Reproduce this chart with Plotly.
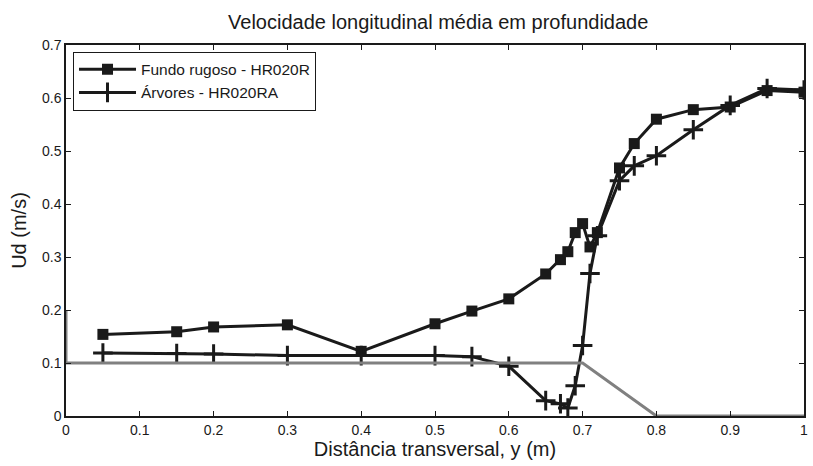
import plotly.graph_objects as go

# Fundo rugoso - HR020R (squares)
x_fundo = [0.05, 0.15, 0.20, 0.30, 0.40, 0.50, 0.55, 0.60, 0.65, 0.67, 0.68, 0.69, 0.70, 0.71, 0.72, 0.75, 0.77, 0.80, 0.85, 0.90, 0.95, 1.00]
u_fundo = [0.154, 0.159, 0.168, 0.172, 0.122, 0.174, 0.198, 0.221, 0.268, 0.295, 0.310, 0.346, 0.363, 0.319, 0.346, 0.468, 0.514, 0.560, 0.578, 0.583, 0.614, 0.611]

# Árvores - HR020RA (crosses)
x_arv = [0.05, 0.15, 0.20, 0.30, 0.40, 0.50, 0.55, 0.60, 0.65, 0.67, 0.68, 0.69, 0.70, 0.71, 0.72, 0.75, 0.77, 0.80, 0.85, 0.90, 0.95, 1.00]
u_arv = [0.119, 0.118, 0.117, 0.114, 0.114, 0.114, 0.112, 0.094, 0.029, 0.023, 0.015, 0.057, 0.133, 0.269, 0.340, 0.444, 0.472, 0.491, 0.540, 0.586, 0.618, 0.615]

# Bed profile (gray)
x_leito = [0.0, 0.0, 0.7, 0.8, 1.0]
z_leito = [0.2, 0.1, 0.1, 0.0, 0.0]

x_ticks = [0, 0.1, 0.2, 0.3, 0.4, 0.5, 0.6, 0.7, 0.8, 0.9, 1]
x_ticklabels = ["0", "0.1", "0.2", "0.3", "0.4", "0.5", "0.6", "0.7", "0.8", "0.9", "1"]
y_ticks = [0, 0.1, 0.2, 0.3, 0.4, 0.5, 0.6, 0.7]
y_ticklabels = ["0", "0.1", "0.2", "0.3", "0.4", "0.5", "0.6", "0.7"]

FONT = "Liberation Sans"
BLACK = "#1a1a1a"

fig = go.Figure()
fig.add_trace(go.Scatter(
    x=x_fundo, y=u_fundo, mode="lines+markers", name="Fundo rugoso - HR020R",
    line=dict(color=BLACK, width=3),
    marker=dict(symbol="square", size=11, color=BLACK),
))
fig.add_trace(go.Scatter(
    x=x_arv, y=u_arv, mode="lines+markers", name="Árvores - HR020RA",
    line=dict(color=BLACK, width=3),
    marker=dict(symbol="cross-thin", size=14, color=BLACK, line=dict(color=BLACK, width=3)),
))
fig.add_trace(go.Scatter(
    x=x_leito, y=z_leito, mode="lines", showlegend=False,
    line=dict(color="#808080", width=3),
))

axis_common = dict(
    showgrid=False, zeroline=False, showline=True, linecolor=BLACK, linewidth=1.5,
    mirror="ticks", ticks="inside", ticklen=5, tickwidth=1, tickcolor=BLACK,
    tickfont=dict(family=FONT, size=14, color=BLACK),
)

fig.update_layout(
    width=813, height=466,
    margin=dict(l=66, r=5, t=45, b=50),
    paper_bgcolor="white", plot_bgcolor="white",
    title=dict(text="Velocidade longitudinal média em profundidade", x=0.539, xanchor="center",
               xref="container", y=0.952, yanchor="middle", font=dict(family=FONT, size=20, color=BLACK)),
    xaxis=dict(range=[0, 1], tickvals=x_ticks, ticktext=x_ticklabels,
               title=dict(text="Distância transversal, y (m)", font=dict(family=FONT, size=20, color=BLACK), standoff=2),
               **axis_common),
    yaxis=dict(range=[0, 0.7], tickvals=y_ticks, ticktext=y_ticklabels,
               title=dict(text="Ud (m/s)", font=dict(family=FONT, size=20, color=BLACK), standoff=10),
               **axis_common),
    legend=dict(x=0.0095, y=0.982, xanchor="left", yanchor="top",
                bordercolor=BLACK, borderwidth=1, bgcolor="white",
                font=dict(family=FONT, size=15.5, color=BLACK),
                tracegroupgap=0, itemwidth=57),
    showlegend=True,
)

fig.write_html("out.html", config={"displayModeBar": False},
               post_script="document.body.style.margin='0px';")
